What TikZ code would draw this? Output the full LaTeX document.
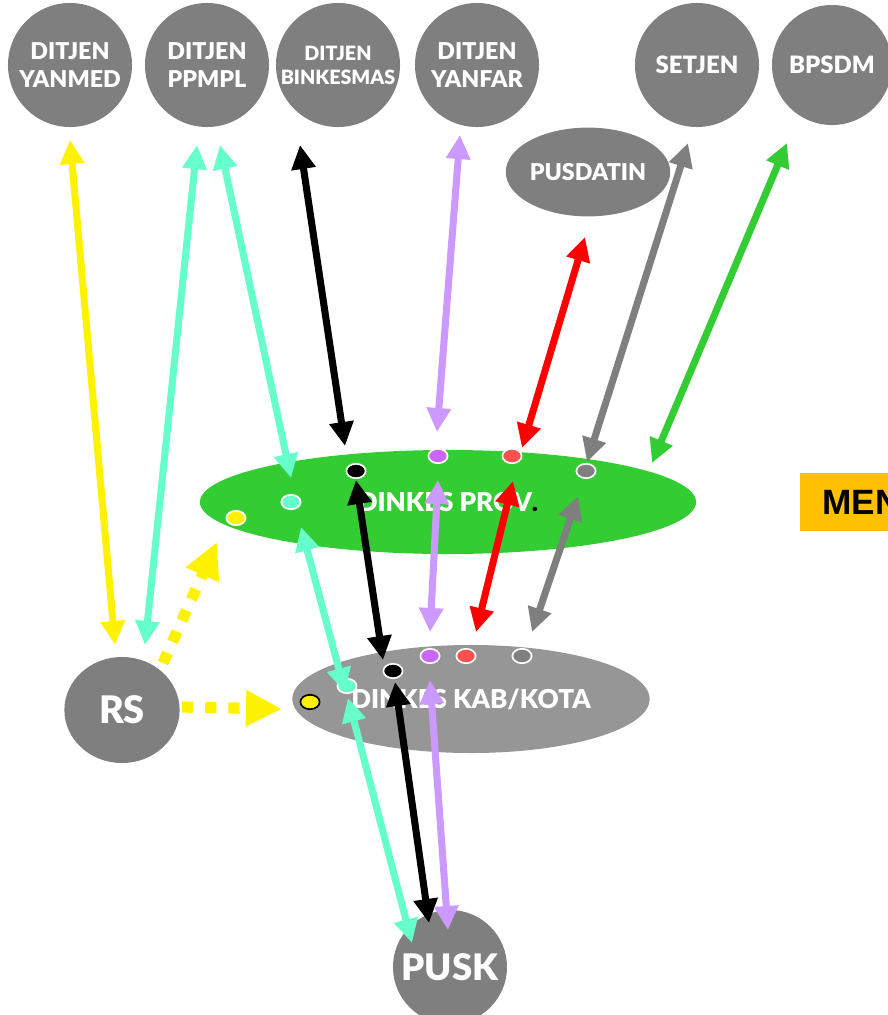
\documentclass[tikz,border=0pt]{standalone}
\usepackage{fontspec}
\setmainfont{Lato}[BoldFont={Lato Black}]
\newfontfamily\menfont{Liberation Sans}
\usetikzlibrary{arrows.meta,shapes.geometric}
\definecolor{Unitgray}{RGB}{127,127,127}
\definecolor{Kabgray}{RGB}{150,150,150}
\definecolor{Provgreen}{RGB}{51,204,51}
\definecolor{Aqua}{RGB}{102,255,204}
\definecolor{Lilac}{RGB}{204,153,255}
\definecolor{Dotviolet}{RGB}{204,102,255}
\definecolor{Dotred}{RGB}{255,80,80}
\definecolor{Menorange}{RGB}{255,192,0}
\tikzset{
    unit/.style={circle, fill=Unitgray, text=white, minimum size=3.1cm, inner sep=0pt, align=center, font=\bfseries\fontsize{16.5}{20}\selectfont},
    spot/.style={ellipse, draw=white, line width=1.2pt, minimum width=0.48cm, minimum height=0.36cm, inner sep=0pt},
    link/.style={line width=5pt, {Triangle[length=0.6cm,width=0.58cm]}-{Triangle[length=0.6cm,width=0.58cm]}},
    feed/.style={yellow, line width=8pt, dash pattern=on 0.28cm off 0.3cm, -{Triangle[length=0.9cm,width=0.85cm]}}
}

\begin{document}
\begin{tikzpicture}[x=0.025cm, y=-0.025cm]
            \clip (0,0) rectangle (888,1015);

            \node[unit] (yanmed) at (70,65) {DITJEN\\YANMED};
            \node[unit] (ppmpl) at (207,65) {DITJEN\\PPMPL};
            \node[unit, font=\bfseries\fontsize{14}{17}\selectfont] (binkesmas) at (338,65) {DITJEN\\BINKESMAS};
            \node[unit] (yanfar) at (477,65) {DITJEN\\YANFAR};
            \node[unit, font=\bfseries\fontsize{17}{20}\selectfont] (setjen) at (697,65) {SETJEN};
            \node[unit, minimum size=3cm, font=\bfseries\fontsize{17}{20}\selectfont] (bpsdm) at (832,65) {BPSDM};
            \node[unit, ellipse, minimum width=3.5cm, minimum height=2.22cm] (pusdatin) at (588,172) {PUSDATIN};

            \node[ellipse, fill=Provgreen, minimum width=12.4cm, minimum height=2.6cm, inner sep=0pt, text=white, font=\bfseries\fontsize{18.5}{20}\selectfont] (prov) at (448,502) {DINKES PROV\textcolor{black}{.}};
            \node[ellipse, fill=Kabgray, minimum width=8.93cm, minimum height=2.7cm, inner sep=0pt, text=white, font=\bfseries\fontsize{18.5}{20}\selectfont] (kab) at (471,699) {DINKES KAB/KOTA};
            \node[unit, ellipse, minimum width=2.88cm, minimum height=2.65cm, font=\bfseries\fontsize{27}{30}\selectfont] (rs) at (122,710) {RS};
            \node[unit, minimum size=2.85cm, font=\bfseries\fontsize{26}{30}\selectfont] (pusk) at (450,967) {PUSK};
            \node[anchor=west, fill=Menorange, minimum height=1.45cm, inner xsep=0.55cm, font=\menfont\bfseries\fontsize{25}{30}\selectfont] (men) at (800,502) {MEN};

            \foreach \nm/\x/\y/\col in {y/236/518/yellow, c/291/502/Aqua, k/356/471/black, v/438/456/Dotviolet, r/512/456/Dotred, g/586/471/Unitgray}{
                \node[spot, fill=\col] (p-\nm) at (\x,\y) {};
            }
            \foreach \nm/\x/\y/\col in {c/347/686/Aqua, k/393/671/black, v/430/656/Dotviolet, r/466/656/Dotred, g/522/656/Unitgray}{
                \node[spot, fill=\col] (k-\nm) at (\x,\y) {};
            }
            \node[spot, fill=yellow, draw=black] (k-y) at (310,702) {};

            % ends of the links
            \coordinate (yanmed-s) at (70,140);
            \coordinate (ppmpl-a) at (197,145);
            \coordinate (ppmpl-b) at (220,145);
            \coordinate (binkesmas-s) at (300,145);
            \coordinate (yanfar-s) at (460,135);
            \coordinate (pusdatin-s) at (585,237);
            \coordinate (setjen-s) at (688,143);
            \coordinate (bpsdm-s) at (787,143);
            \coordinate (rs-a) at (115,645);
            \coordinate (rs-b) at (145,645);
            \coordinate (rs-ne) at (163,663);
            \coordinate (rs-e) at (182,707);
            \coordinate (prov-c) at (291,478);
            \coordinate (prov-k) at (345,446);
            \coordinate (prov-v) at (437,432);
            \coordinate (prov-r) at (522,448);
            \coordinate (prov-g) at (587,462);
            \coordinate (prov-e) at (652,463);
            \coordinate (prov-c2) at (301,527);
            \coordinate (prov-k2) at (356,480);
            \coordinate (prov-v2) at (438,480);
            \coordinate (prov-r2) at (513,481);
            \coordinate (prov-g2) at (578,496);
            \coordinate (prov-sw) at (217,542);
            \coordinate (kab-c) at (345,692);
            \coordinate (kab-k) at (383,660);
            \coordinate (kab-v) at (430,632);
            \coordinate (kab-r) at (476,632);
            \coordinate (kab-g) at (532,632);
            \coordinate (kab-c2) at (348,698);
            \coordinate (kab-k2) at (395,682);
            \coordinate (kab-v2) at (430,680);
            \coordinate (kab-w) at (282,709);
            \coordinate (pusk-c) at (412,943);
            \coordinate (pusk-k) at (429,923);
            \coordinate (pusk-v) at (448,930);

            \draw[link, yellow] (yanmed-s) -- (rs-a);
            \draw[link, Aqua] (ppmpl-a) -- (rs-b);
            \draw[link, Aqua] (ppmpl-b) -- (prov-c);
            \draw[link, black] (binkesmas-s) -- (prov-k);
            \draw[link, Lilac] (yanfar-s) -- (prov-v);
            \draw[link, red] (pusdatin-s) -- (prov-r);
            \draw[link, Unitgray] (setjen-s) -- (prov-g);
            \draw[link, Provgreen] (bpsdm-s) -- (prov-e);

            \draw[link, Aqua] (prov-c2) -- (kab-c);
            \draw[link, black] (prov-k2) -- (kab-k);
            \draw[link, Lilac] (prov-v2) -- (kab-v);
            \draw[link, red] (prov-r2) -- (kab-r);
            \draw[link, Unitgray] (prov-g2) -- (kab-g);

            \draw[link, Aqua] (kab-c2) -- (pusk-c);
            \draw[link, black] (kab-k2) -- (pusk-k);
            \draw[link, Lilac] (kab-v2) -- (pusk-v);

            \draw[feed] (rs-ne) -- (prov-sw);
            \draw[feed] (rs-e) -- (kab-w);
\end{tikzpicture}
\end{document}
